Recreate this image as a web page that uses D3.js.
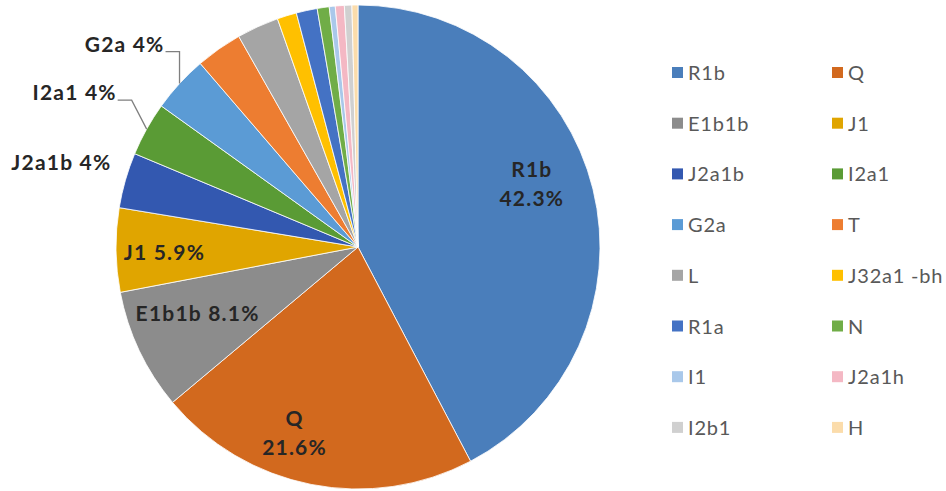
<!DOCTYPE html>
<html>
<head>
<meta charset="utf-8">
<script src="https://cdn.jsdelivr.net/npm/d3@7/dist/d3.min.js"></script>
<style>
  html, body { margin: 0; padding: 0; background: #fff; }
  svg { display: block; }
</style>
</head>
<body>
<svg id="chart" width="946" height="491"></svg>
<script>
// ---- data ----
const categories = ["R1b", "Q", "E1b1b", "J1", "J2a1b", "I2a1", "G2a", "T", "L", "J32a1 -bh", "R1a", "N", "I1", "J2a1h", "I2b1", "H"];
const values     = [42.3, 21.6, 8.1, 5.6, 3.7, 3.6, 3.8, 3.1, 2.8, 1.3, 1.4, 0.8, 0.4, 0.6, 0.5, 0.4];
const colors     = ["#4a7ebb", "#d2691e", "#8c8c8c", "#e0a500", "#3358b0", "#5a9b35", "#5b9bd5", "#ed7d31", "#a5a5a5", "#ffc000", "#4472c4", "#70ad47", "#a9c8ea", "#f4b8c4", "#d0d0d0", "#fbdcab"];
const labelNames = ["R1b", "Q", "E1b1b", "J1", "J2a1b", "I2a1", "G2a"];
const labelPcts  = ["42.3%", "21.6%", "8.1%", "5.9%", "4%", "4%", "4%"];

// ---- layout / style ----
const cx = 358, cy = 247, R = 242;
const svg = d3.select("#chart");
const fontLabel = "Lato, 'Open Sans', sans-serif";

const data = categories.map((c, i) => ({ name: c, value: values[i], color: colors[i] }));
const pie = d3.pie().value(d => d.value).sort(null);
const arcs = pie(data);
const arc = d3.arc().innerRadius(0).outerRadius(R);

const g = svg.append("g").attr("transform", `translate(${cx},${cy})`);
g.selectAll("path.slice").data(arcs).join("path")
  .attr("class", "slice")
  .attr("d", arc)
  .attr("fill", d => d.data.color)
  .attr("stroke", "#ffffff")
  .attr("stroke-width", 0.8);

// label placement styles
const labelStyle = {
  "R1b":   { mode: "in2", r: 0.74, dx: 0,   dy: -27 },
  "Q":     { mode: "in2", r: 0.80, dx: -26, dy: -11 },
  "E1b1b": { mode: "in1", r: 0.72, dx: -3,  dy: -8 },
  "J1":    { mode: "in1", r: 0.80, dx: 0,   dy: 4 },
  "J2a1b": { mode: "out", ex: -14, ey: -17 },
  "I2a1":  { mode: "lead", ex: -15, ey: -29 },
  "G2a":   { mode: "lead", ex: 0,   ey: -32 }
};

const lg = g.append("g").attr("font-family", fontLabel).attr("font-weight", 700)
  .attr("font-size", 21).attr("letter-spacing", 1.2).attr("fill", "#262626");

arcs.forEach(a => {
  const name = a.data.name;
  const li = labelNames.indexOf(name);
  if (li < 0) return;
  const pct = labelPcts[li];
  const s = labelStyle[name];
  const mid = (a.startAngle + a.endAngle) / 2;
  const ux = Math.sin(mid), uy = -Math.cos(mid);
  const txt = name + " " + pct;
  if (s.mode === "in2" || s.mode === "in1") {
    const px = ux * R * s.r + s.dx, py = uy * R * s.r + s.dy;
    if (s.mode === "in2") {
      const t = lg.append("text").attr("text-anchor", "middle");
      t.append("tspan").attr("x", px).attr("y", py).text(name);
      t.append("tspan").attr("x", px).attr("y", py + 29).text(pct);
    } else {
      lg.append("text").attr("text-anchor", "middle").attr("x", px).attr("y", py + 7).text(txt);
    }
  } else {
    const rimX = ux * R, rimY = uy * R;
    const lx = rimX + s.ex, ly = rimY + s.ey;
    if (s.mode === "lead") {
      const hx = lx - 14;
      g.append("polyline")
        .attr("points", [[rimX, rimY], [lx, ly], [hx, ly]].map(p => p.join(",")).join(" "))
        .attr("fill", "none").attr("stroke", "#7f7f7f").attr("stroke-width", 1.3);
      lg.append("text").attr("text-anchor", "end").attr("x", hx - 1).attr("y", ly).text(txt);
    } else {
      lg.append("text").attr("text-anchor", "end").attr("x", lx).attr("y", ly + 7).text(txt);
    }
  }
});

// ---- legend ----
const legX = [672, 832], legY0 = 73, legDY = 50.7;
const leg = svg.append("g").attr("font-family", fontLabel).attr("font-size", 20)
  .attr("letter-spacing", 0.8).attr("fill", "#595959");
data.forEach((d, i) => {
  const col = i % 2, row = Math.floor(i / 2);
  const x = legX[col], y = legY0 + row * legDY;
  leg.append("rect").attr("x", x).attr("y", y - 6).attr("width", 11).attr("height", 11).attr("fill", d.color);
  leg.append("text").attr("x", x + 16).attr("y", y + 7).text(d.name);
});
</script>
</body>
</html>
